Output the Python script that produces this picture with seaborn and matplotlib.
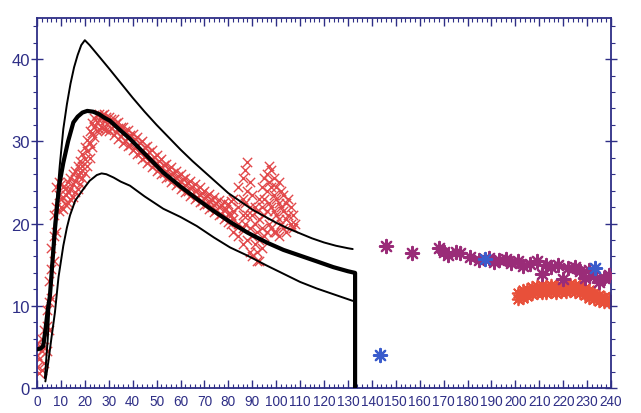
import matplotlib
matplotlib.use("Agg")
import matplotlib.pyplot as plt
from matplotlib.ticker import MultipleLocator
import seaborn as sns
import pandas as pd

# ---------------- data ----------------
upper_x = [3.3, 4.5, 5.5, 6.5, 7.5, 8.5, 9.5, 11, 12.5, 14, 15.5, 17, 18.5, 20, 22, 26.3, 30, 35, 40, 45, 50, 55,
           60, 65, 70, 75, 80, 85, 90, 95, 100, 105, 110, 115, 120, 125, 130, 132]
upper_y = [1.2, 6, 11.5, 16.5, 20.5, 23.5, 27, 31.5, 34.5, 37, 39, 40.5, 41.7, 42.3, 41.7, 40.2, 38.9, 37.1, 35.3,
           33.6, 32, 30.5, 29, 27.6, 26.3, 25, 23.7, 22.7, 21.7, 20.9, 20.1, 19.4, 18.8, 18.2, 17.7, 17.3, 17.0, 16.9]

mid_x = [0, 1.5, 2.6, 3.5, 4.5, 5.4, 6.5, 7.5, 8.5, 9.5, 11, 13, 15.2, 17, 19, 21, 23.5, 26, 28, 30.5, 35, 38.9,
         45, 52.8, 60, 66.8, 74, 80.7, 88, 96, 103, 110, 117, 123.9, 130, 133, 133]
mid_y = [4.7, 4.8, 5.1, 7, 9.5, 11.2, 15.5, 19.3, 22.5, 25, 27.4, 30, 32.3, 33, 33.5, 33.7, 33.6, 33.3, 32.9, 32.5,
         31.3, 30.3, 28.5, 26.2, 24.5, 23, 21.5, 20.2, 18.9, 17.7, 16.8, 16.1, 15.4, 14.7, 14.2, 14.0, 0]

lower_x = [3.5, 4.7, 6, 7.5, 9, 11, 12.5, 13.8, 16, 19.4, 22, 25, 27, 29, 32, 35, 38.9, 45, 52.8, 60, 66.8, 74,
           80.7, 88, 96, 103, 110, 117, 124, 130, 132]
lower_y = [0.8, 3.1, 6, 9.2, 13.5, 17.3, 19.5, 21, 22.8, 24.2, 25.2, 25.9, 26.1, 26, 25.6, 25.1, 24.6, 23.3, 21.8,
           20.8, 19.7, 18.3, 17.1, 16.1, 14.9, 13.9, 12.9, 12.1, 11.4, 10.8, 10.6]

red_rise_x = [0, 0, 0, 1, 1, 1, 2, 2, 2, 3, 3, 3, 4, 4, 4, 5, 5, 5, 6, 6, 6, 7, 7, 7, 8, 8, 8, 9, 9, 9,
              10, 10, 10, 11, 11, 11, 12, 12, 12, 13, 13, 13, 14, 14, 14, 15, 15, 15, 16, 16, 16, 17, 17, 17,
              18, 18, 18, 19, 19, 19, 20, 20, 20, 21, 21, 21, 22, 22, 22, 23, 23, 23, 24, 24, 24, 25, 25, 25,
              26, 26, 26, 27, 27, 27, 28, 28, 28, 29, 29, 29, 30, 30, 30]
red_rise_y = [2.5, 4.0, 5.5, 1.8, 3.5, 5.0, 2.2, 4.5, 6.0, 3.0, 5.0, 7.0, 4.5, 7.5, 9.5, 7.0, 10.5, 13.0,
              11.0, 14.5, 17.0, 15.5, 18.5, 21.0, 19.0, 22.0, 24.5, 21.5, 23.5, 25.0, 22.0, 23.0, 24.8,
              21.8, 23.2, 24.5, 22.2, 23.5, 24.3, 22.5, 23.8, 25.0, 23.0, 24.2, 25.5, 23.2, 24.8, 26.0,
              23.8, 25.2, 26.4, 24.2, 25.8, 27.0, 24.8, 26.3, 27.6, 25.5, 27.0, 28.4, 26.2, 27.8, 29.3,
              27.0, 28.8, 30.2, 28.0, 29.8, 31.2, 29.3, 31.0, 32.2, 30.5, 31.8, 32.8, 31.2, 32.4, 33.2,
              31.5, 32.6, 33.3, 31.6, 32.8, 33.2, 31.5, 32.5, 33.3, 31.4, 32.6, 33.0, 31.2, 32.3, 33.0]

red_decay_x = [31, 31, 32, 32, 32, 33, 33, 34, 34, 34, 35, 35, 36, 36, 36, 37, 37, 38, 38, 38, 39, 39,
               40, 40, 40, 41, 41, 42, 42, 42, 43, 43, 44, 44, 44, 45, 45, 46, 46, 46, 47, 47, 48, 48, 48,
               49, 49, 50, 50, 50, 51, 51, 52, 52, 52, 53, 53, 54, 54, 54, 55, 55, 56, 56, 56, 57, 57,
               58, 58, 58, 59, 59, 60, 60, 60, 61, 61, 62, 62, 62, 63, 63, 64, 64, 64, 65, 65, 66, 66, 66,
               67, 67, 68, 68, 68, 69, 69, 70, 70, 70, 71, 71, 72, 72, 72, 73, 73, 74, 74, 74, 75, 75,
               76, 76, 76, 77, 77, 78, 78, 78, 79, 79, 80, 80, 80, 81, 81, 81]
red_decay_y = [31.6, 32.7, 30.8, 31.9, 32.7, 31.1, 32.2, 30.3, 31.6, 32.3, 30.6, 31.7, 29.8, 31.0, 31.8,
               30.1, 31.2, 29.4, 30.5, 31.4, 29.6, 30.8, 28.9, 30.1, 30.9, 29.2, 30.3, 28.4, 29.5, 30.5,
               28.6, 29.8, 27.9, 29.0, 30.0, 28.1, 29.3, 27.4, 28.4, 29.4, 27.6, 28.7, 26.9, 27.9, 28.9,
               27.1, 28.1, 26.4, 27.4, 28.3, 26.6, 27.6, 26.0, 26.9, 27.8, 26.1, 27.1, 25.5, 26.4, 27.3,
               25.7, 26.6, 25.0, 26.0, 26.9, 25.3, 26.2, 24.7, 25.6, 26.4, 24.9, 25.8, 24.2, 25.1, 26.0,
               24.4, 25.4, 23.8, 24.7, 25.6, 24.0, 24.9, 23.4, 24.3, 25.2, 23.6, 24.5, 23.0, 23.9, 24.8,
               23.2, 24.1, 22.6, 23.5, 24.4, 22.8, 23.7, 22.2, 23.1, 24.0, 22.4, 23.3, 21.8, 22.7, 23.6,
               22.0, 22.9, 21.4, 22.3, 23.2, 21.6, 22.5, 21.0, 22.0, 22.9, 21.2, 22.2, 20.6, 21.6, 22.6,
               20.8, 21.8, 20.2, 21.2, 22.4, 20.0, 21.0, 22.8]

red_cluster_x = [82, 82, 82, 82, 84, 84, 84, 84, 86, 86, 86, 86, 86, 87, 87, 87, 88, 88, 88, 88,
                 89, 89, 89, 89, 90, 90, 90, 90, 91, 91, 91, 92, 92, 92, 92, 93, 93, 93, 93,
                 94, 94, 94, 94, 95, 95, 95, 95, 96, 96, 96, 96, 97, 97, 97, 97, 98, 98, 98, 98,
                 99, 99, 99, 99, 100, 100, 100, 100, 101, 101, 101, 101, 102, 102, 102, 103, 103, 103,
                 104, 104, 104, 105, 105, 106, 106, 107, 107, 108]
red_cluster_y = [20.5, 21.5, 23.0, 19.0, 20.0, 22.0, 24.5, 18.5, 21.0, 23.0, 25.5, 19.5, 17.5, 22.5, 26.5, 20.0,
                 27.5, 24.0, 21.0, 18.0, 25.0, 22.0, 19.5, 16.5, 23.5, 21.0, 18.5, 16.0, 22.0, 20.0, 17.5,
                 21.5, 19.0, 16.5, 15.5, 23.0, 20.5, 18.0, 15.5, 24.5, 22.0, 19.5, 17.0, 25.5, 23.0, 21.0, 18.5,
                 26.0, 24.0, 21.5, 19.0, 27.0, 25.0, 22.5, 20.0, 26.5, 24.5, 22.0, 19.5, 25.5, 23.5, 21.5, 19.0,
                 24.5, 23.0, 21.0, 19.0, 25.0, 22.5, 20.5, 18.5, 24.0, 22.0, 20.0, 23.5, 21.5, 19.5,
                 22.5, 20.5, 19.0, 23.0, 21.0, 22.0, 20.0, 21.0, 19.5, 20.0]

red_right_x = [201, 201, 202, 203, 203, 204, 205, 205, 206, 207, 207, 208, 209, 209, 210, 211, 211, 212,
               213, 213, 214, 215, 215, 216, 217, 217, 218, 219, 219, 220, 221, 221, 222, 223, 223, 224,
               225, 225, 226, 227, 227, 228, 229, 229, 230, 231, 231, 232, 233, 233, 234, 235, 235, 236,
               237, 237, 238, 239, 239]
red_right_y = [10.8, 11.6, 11.2, 11.0, 11.9, 11.5, 11.2, 12.1, 11.7, 11.4, 12.3, 11.8, 11.5, 12.4, 11.9,
               11.6, 12.5, 12.0, 11.6, 12.4, 12.0, 11.7, 12.5, 12.1, 11.6, 12.4, 12.0, 11.7, 12.5, 12.1,
               11.7, 12.5, 12.1, 11.8, 12.6, 12.2, 11.7, 12.5, 12.1, 11.5, 12.4, 11.9, 11.3, 12.2, 11.7,
               11.0, 11.9, 11.4, 10.8, 11.6, 11.1, 10.6, 11.3, 10.9, 10.5, 11.1, 10.8, 10.5, 11.0]

purple_x = [146, 157, 168, 170, 172, 175, 177, 181, 185, 189, 191, 193, 196, 198, 201, 203, 206, 209, 211,
            213, 215, 218, 220, 222, 225, 227, 229, 231, 233, 235, 237, 239]
purple_y = [17.3, 16.4, 17.0, 16.6, 16.2, 16.5, 16.4, 15.9, 15.6, 15.8, 15.3, 15.6, 15.7, 15.2, 15.4, 14.8,
            15.1, 15.4, 13.9, 15.0, 14.7, 15.0, 13.3, 14.6, 14.7, 14.2, 13.4, 14.3, 13.6, 12.9, 13.4, 13.8]

blue_x = [143.4, 187.3, 233.3]
blue_y = [4.0, 15.7, 14.6]

x_ticks = list(range(0, 241, 10))
y_ticks = [0, 10, 20, 30, 40]

# ---------------- figure ----------------
sns.set_theme(style="white")
plt.rcParams['font.family'] = ['Liberation Sans', 'DejaVu Sans']

NAVY = "#2e2e86"
fig = plt.figure(figsize=(6.41, 4.14), dpi=100)
ax = fig.add_axes([37 / 641, 25 / 414, 574 / 641, 370 / 414])

red_left = pd.DataFrame({"x": red_rise_x + red_decay_x + red_cluster_x,
                         "y": red_rise_y + red_decay_y + red_cluster_y})
sns.scatterplot(data=red_left, x="x", y="y", marker="x", s=45, color="#e2494b",
                linewidth=1.0, ax=ax, zorder=2)

red_right = pd.DataFrame({"x": red_right_x, "y": red_right_y})
sns.scatterplot(data=red_right, x="x", y="y", marker=(8, 2, 0), s=70, color="#e8503a",
                linewidth=1.3, ax=ax, zorder=2)

purple = pd.DataFrame({"x": purple_x, "y": purple_y})
sns.scatterplot(data=purple, x="x", y="y", marker=(8, 2, 0), s=90, color="#9a2c78",
                linewidth=1.6, ax=ax, zorder=3)

blue = pd.DataFrame({"x": blue_x, "y": blue_y})
sns.scatterplot(data=blue, x="x", y="y", marker=(8, 2, 0), s=90, color="#3a5ccc",
                linewidth=1.6, ax=ax, zorder=4)

for xs, ys, lw in [(upper_x, upper_y, 1.4), (lower_x, lower_y, 1.4), (mid_x, mid_y, 3.0)]:
    df = pd.DataFrame({"x": xs, "y": ys})
    sns.lineplot(data=df, x="x", y="y", sort=False, estimator=None, color="black",
                 linewidth=lw, ax=ax, zorder=5)

ax.set_xlim(0, 240)
ax.set_ylim(0, 45)
ax.set_xticks(x_ticks)
ax.set_xticklabels([str(t) for t in x_ticks])
ax.set_yticks(y_ticks)
ax.set_yticklabels([str(t) for t in y_ticks])
ax.xaxis.set_minor_locator(MultipleLocator(2))
ax.yaxis.set_minor_locator(MultipleLocator(2))
ax.set_xlabel("")
ax.set_ylabel("")

ax.tick_params(axis="x", which="major", direction="in", length=6, width=1, top=True, bottom=True,
               colors=NAVY, labelsize=9.8, pad=4)
ax.tick_params(axis="x", which="minor", direction="in", length=3, width=0.8, top=True, bottom=True,
               colors=NAVY)
ax.tick_params(axis="y", which="major", direction="inout", length=8, width=1, left=True, right=True,
               colors=NAVY, labelsize=12, pad=1)
ax.tick_params(axis="y", which="minor", direction="out", length=3, width=0.8, left=True, right=True,
               colors=NAVY)
for sp in ax.spines.values():
    sp.set_visible(True)
    sp.set_color(NAVY)
    sp.set_linewidth(1.3)
ax.grid(False)

fig.savefig("out.png", dpi=100)
